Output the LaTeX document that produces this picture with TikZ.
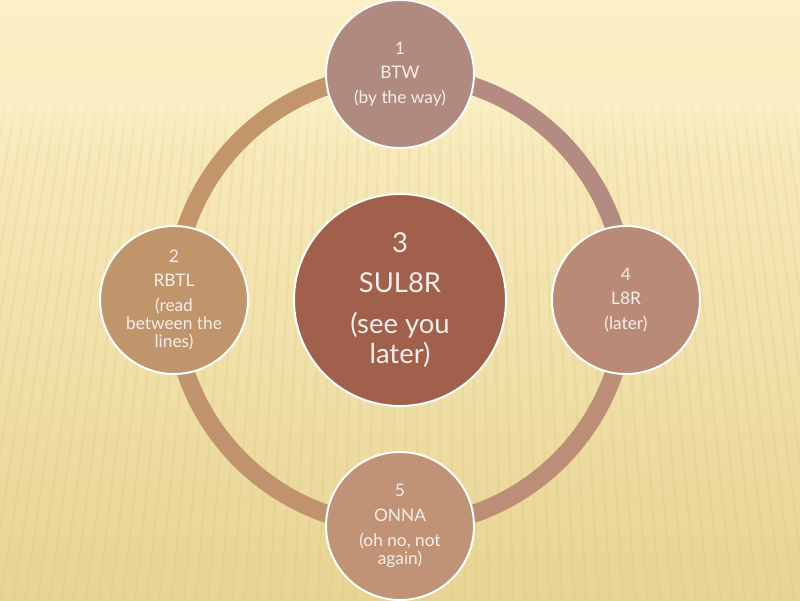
\documentclass[tikz,border=0pt]{standalone}
\usepackage{fontspec}
\setmainfont{Lato}
\usetikzlibrary{backgrounds,fadings}
\definecolor{cream}{HTML}{FCF0C7}
\definecolor{sand}{HTML}{E8D493}
\definecolor{stripe}{HTML}{D9BD6C}
\definecolor{ringtan}{HTML}{C3956A}
\definecolor{ringmauve}{HTML}{B48B80}
\definecolor{ringlow}{HTML}{BD8E77}
\definecolor{ringleft}{HTML}{C1926E}
\definecolor{textlight}{HTML}{F6EEEA}
\tikzfading[name=fade down, top color=transparent!0, bottom color=transparent!100]

\begin{document}
\begin{tikzpicture}[
  slang/.style={circle, draw=white, line width=1.4pt, minimum size=3.7cm, inner sep=0pt, align=center, text=textlight,
    font=\fontsize{12.3}{13}\selectfont},
  hub/.style={slang, minimum size=5.3cm, font=\fontsize{19.5}{21.4}\selectfont},
  ring/.style={line width=0.45cm}
]
  \useasboundingbox (0,0) rectangle (20,15);

  \node[hub, fill={rgb,255:red,160;green,96;blue,76}] (n3) at (10,7.5) {3\\[7.5pt]SUL8R\\[7.5pt](see you\\later)};
  \node[slang, fill={rgb,255:red,176;green,138;blue,127}] (n1) at (10,13.15) {1\\[4.5pt]BTW\\[4.5pt](by the way)};
  \node[slang, fill={rgb,255:red,192;green,149;blue,108}] (n2) at (4.35,7.5) {2\\[4.5pt]RBTL\\[4.5pt](read\\between the\\lines)};
  \node[slang, fill={rgb,255:red,185;green,139;blue,119}] (n4) at (15.65,7.5) {4\\[4.5pt]L8R\\[4.5pt](later)};
  \node[slang, fill={rgb,255:red,192;green,146;blue,118}] (n5) at (10,1.85) {5\\[4.5pt]ONNA\\[4.5pt](oh no, not\\again)};

  \begin{scope}[on background layer]
    % backdrop
    \shade[top color=cream, middle color=cream!80!sand, bottom color=sand] (0,0) rectangle (20,15);
    \begin{scope}
      \clip (0,0) rectangle (20,13);
      \foreach \x in {-6,-5.75,...,26}
        \draw[stripe, line width=1.6pt, opacity=0.16] (\x,13) -- ({\x+(\x-11)*0.22},0);
    \end{scope}
    \fill[cream, path fading=fade down] (0,11) rectangle (20,13.05);
    % ring between the circles
    \draw[ring, ringmauve] (n1.center) arc[start angle=90, end angle=0, radius=5.65];
    \draw[ring, ringlow] (n4.center) arc[start angle=0, end angle=-90, radius=5.65];
    \draw[ring, ringleft] (n5.center) arc[start angle=270, end angle=180, radius=5.65];
    \draw[ring, ringtan] (n2.center) arc[start angle=180, end angle=90, radius=5.65];
  \end{scope}
\end{tikzpicture}
\end{document}
